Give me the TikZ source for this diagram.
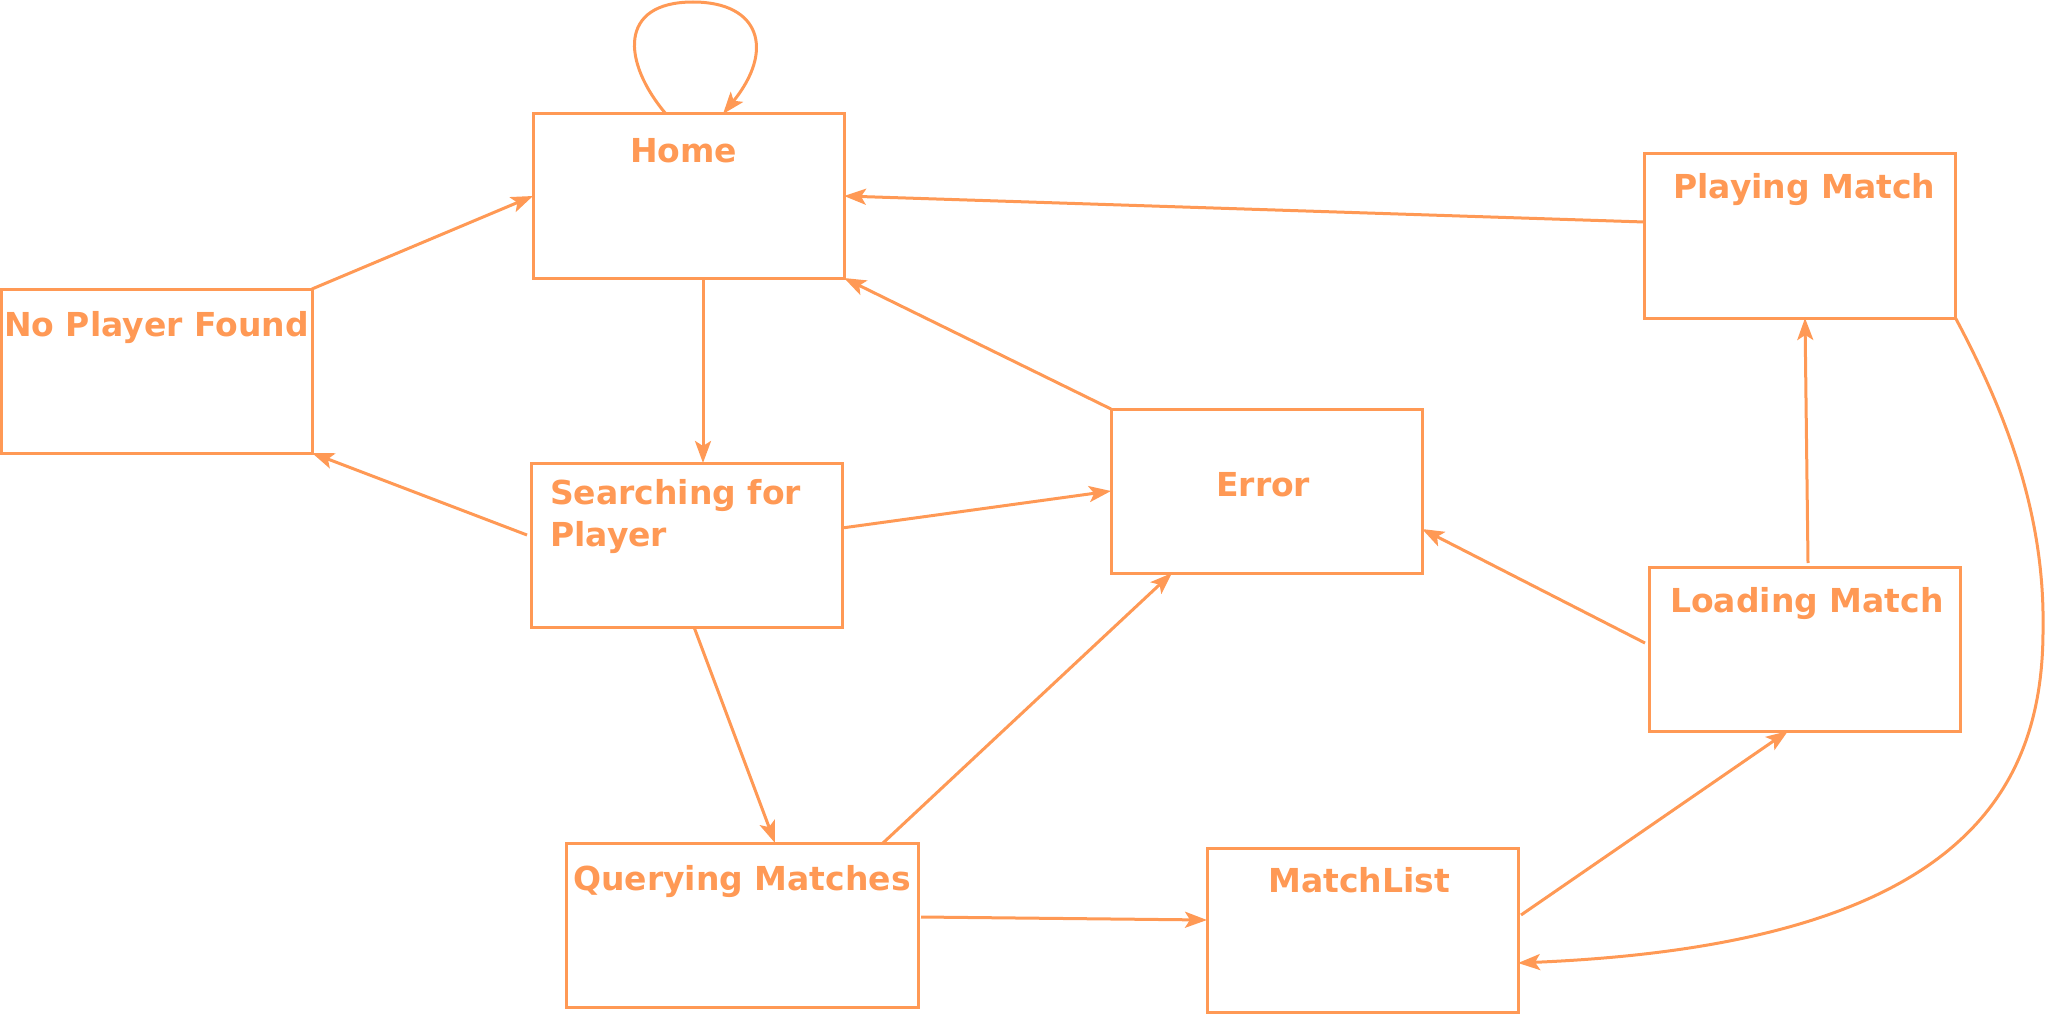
\documentclass[tikz,border=0pt]{standalone}
\usepackage{fontspec}
\setmainfont{DejaVu Sans}
\usetikzlibrary{arrows.meta}
\definecolor{sandy}{HTML}{FF9955}
\begin{document}
\begin{tikzpicture}[x=1pt,y=-1pt,
  box/.style={draw=sandy,line width=3pt,inner sep=0pt,outer sep=0pt,minimum width=311pt,minimum height=164pt},
  lbl/.style={text=sandy,inner sep=0pt,anchor=base west,font=\fontsize{33}{41.25}\selectfont\bfseries,align=left},
  conn/.style={draw=sandy,line width=3pt,-{Stealth[length=22pt,width=16pt,inset=5pt]}}]
\useasboundingbox (0,0) rectangle (2045,1014);
% boxes
\node[box] (home) at (688.5,196) {};
\node[box] (play) at (1800,236) {};
\node[box] (npf) at (156.5,371) {};
\node[box] (search) at (686.5,545) {};
\node[box] (err) at (1266.5,491) {};
\node[box] (load) at (1804.5,649) {};
\node[box,minimum width=352pt] (query) at (742,925) {};
\node[box] (mlist) at (1362.5,930) {};
% labels
\node[lbl] (homet) at (630,163) {Home};
\node[lbl] (playt) at (1673,198) {Playing Match};
\node[lbl] (npft) at (4,336) {No Player Found};
\node[lbl] (searcht) at (550,546) {Searching for\\Player};
\node[lbl] (errt) at (1216,496) {Error};
\node[lbl] (loadt) at (1670,612) {Loading Match};
\node[lbl] (queryt) at (573,890) {Querying Matches};
\node[lbl] (mlistt) at (1268,892) {MatchList};
% connectors
\draw[conn] ([xshift=-22.5pt]home.north) .. controls (622,62) and (618,2) .. (693,2)
  .. controls (760,2) and (775,50) .. ([xshift=34.5pt]home.north);
\draw[conn] (npf.north east) -- (home.west);
\draw[conn] ([xshift=14.5pt]home.south) -- ([xshift=16.5pt]search.north);
\draw[conn] ([xshift=-4pt,yshift=10pt]search.west) -- (npf.south east);
\draw[conn] ([yshift=17pt]search.east) -- (err.west);
\draw[conn] (err.north west) -- (home.south east);
\draw[conn] ([yshift=14pt]play.west) -- (home.east);
\draw[conn] ([xshift=7.5pt]search.south) -- ([xshift=33pt]query.north);
\draw[conn] ([xshift=141pt]query.north) -- ([xshift=-94.5pt]err.south);
\draw[conn] ([xshift=3pt,yshift=8pt]query.east) -- ([yshift=10pt]mlist.west);
\draw[conn] ([xshift=3pt,yshift=15pt]mlist.east) -- ([xshift=-16.5pt]load.south);
\draw[conn] ([xshift=-4pt,yshift=6pt]load.west) -- ([yshift=-38pt]err.east);
\draw[conn] ([xshift=3.5pt,yshift=4pt]load.north) -- ([xshift=5pt]play.south);
\draw[conn] (play.south east) .. controls (2010,420) and (2045,520) .. (2043,630)
  .. controls (2043,800) and (1950,945) .. ([yshift=-33pt]mlist.east);
\end{tikzpicture}
\end{document}
